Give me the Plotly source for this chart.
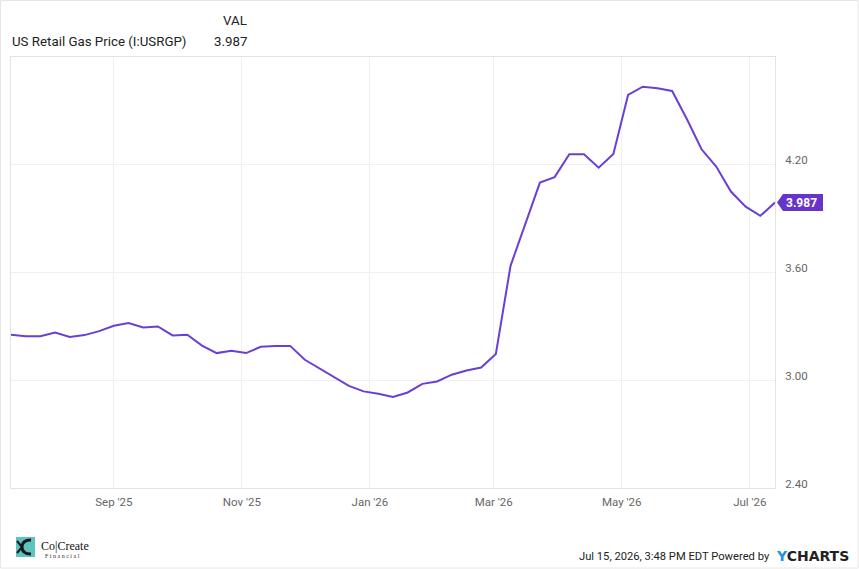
import pandas as pd
import plotly.graph_objects as go

# weekly US retail gas price, Mondays
week_start = "2025-07-14"
gas_price = [
    3.252, 3.244, 3.244, 3.264, 3.240, 3.250, 3.272, 3.302, 3.317, 3.292,
    3.298, 3.248, 3.252, 3.192, 3.150, 3.163, 3.150, 3.185, 3.190, 3.190,
    3.113, 3.064, 3.018, 2.968, 2.937, 2.924, 2.906, 2.931, 2.979, 2.992,
    3.030, 3.053, 3.070, 3.145, 3.635, 3.863, 4.098, 4.128, 4.256, 4.256,
    4.181, 4.257, 4.585, 4.631, 4.622, 4.607, 4.451, 4.283, 4.187, 4.048,
    3.964, 3.913, 3.987,
]
dates = pd.date_range(week_start, periods=len(gas_price), freq="7D")
series_name = "US Retail Gas Price (I:USRGP)"
last_val = f"{gas_price[-1]:.3f}"
y_ticks = [2.40, 3.00, 3.60, 4.20]
y_range = [2.40, 4.796]

LINE = "#6b3fd4"
TAG = "#6634c9"
GRID = "#f0f0f0"
FRAME = "#e3e3e3"
TICK = "#666666"

# plot area in pixels: x 11..775, y 57..488
W, H = 859, 569
L, R, T, B = 11, 84, 57, 81
pw, ph = W - L - R, H - T - B


def px(x):
    return (x - L) / pw


def py(y):
    return (H - B - y) / ph


fig = go.Figure()
fig.add_trace(go.Scatter(
    x=dates, y=gas_price, mode="lines",
    line=dict(color=LINE, width=2), name=series_name,
    hoverinfo="x+y",
))

fig.update_xaxes(
    range=[dates[0], dates[-1]],
    tick0="2025-09-01", dtick="M2", tickformat="%b '%y",
    showgrid=True, gridcolor=GRID, gridwidth=1,
    showline=True, linecolor=FRAME, linewidth=1, mirror=True,
    ticks="", tickfont=dict(family="Roboto", size=11.5, color=TICK),
    ticklabelstandoff=3, zeroline=False,
)
fig.update_yaxes(
    side="right", range=y_range,
    tickvals=y_ticks, tickformat=".2f",
    showgrid=True, gridcolor=GRID, gridwidth=1,
    showline=True, linecolor=FRAME, linewidth=1, mirror=True,
    ticks="", tickfont=dict(family="Roboto", size=11.5, color=TICK),
    ticklabelstandoff=7, ticklabelshift=-4, zeroline=False,
)

# price tag at the last point (y in paper units from the last value)
tag_y = (gas_price[-1] - y_range[0]) / (y_range[1] - y_range[0])
fig.add_shape(
    type="path", xref="paper", yref="paper", xsizemode="pixel", ysizemode="pixel",
    xanchor=1, yanchor=tag_y,
    path="M 2,0 L 8,8.5 L 48,8.5 L 48,-8.5 L 8,-8.5 Z",
    fillcolor=TAG, line=dict(width=0), layer="above",
)
fig.add_annotation(
    x=1, y=tag_y, xref="paper", yref="paper",
    text=f"<b>{last_val}</b>", showarrow=False, xanchor="left", yanchor="middle",
    xshift=9, font=dict(family="Roboto", size=12, color="white"),
)

# legend header
head_font = dict(family="Roboto", size=13.3, color="#222222")
fig.add_annotation(x=px(249), y=py(21), xref="paper", yref="paper", text="VAL",
                   showarrow=False, xanchor="right", yanchor="middle", font=head_font)
fig.add_annotation(x=px(10), y=py(41), xref="paper", yref="paper", text=series_name,
                   showarrow=False, xanchor="left", yanchor="middle", font=head_font)
fig.add_annotation(x=px(249), y=py(41), xref="paper", yref="paper", text=last_val,
                   showarrow=False, xanchor="right", yanchor="middle", font=head_font)

# footer
fig.add_annotation(x=px(772), y=py(556), xref="paper", yref="paper",
                   text="Jul 15, 2026, 3:48 PM EDT Powered by",
                   showarrow=False, xanchor="right", yanchor="middle",
                   font=dict(family="Roboto", size=11.2, color="#222222"))
fig.add_annotation(x=px(774), y=py(556), xref="paper", yref="paper",
                   text="<span style='color:#1e90e8'>Y</span>CHARTS",
                   showarrow=False, xanchor="left", yanchor="middle",
                   font=dict(family="DejaVu Sans", size=14, color="#222222", weight="bold"))

# CoCreate logo
fig.add_shape(type="rect", xref="paper", yref="paper",
              x0=px(16), x1=px(35), y0=py(557), y1=py(537),
              fillcolor="#5fc4c0", line=dict(width=0))
fig.add_shape(type="path", xref="paper", yref="paper",
              path=f"M {px(31)},{py(540)} Q {px(22)},{py(540)} {px(22)},{py(547)} "
                   f"Q {px(22)},{py(554)} {px(31)},{py(554)}",
              line=dict(color="#1a1a1a", width=3))
fig.add_shape(type="path", xref="paper", yref="paper",
              path=f"M {px(17)},{py(541)} L {px(22)},{py(547)} L {px(17)},{py(553)}",
              line=dict(color="#1a1a1a", width=2))
fig.add_annotation(x=px(39), y=py(546), xref="paper", yref="paper", text="Co|Create",
                   showarrow=False, xanchor="left", yanchor="middle",
                   font=dict(family="Liberation Serif", size=12, color="#111111"))
fig.add_annotation(x=px(43), y=py(556), xref="paper", yref="paper", text="F i n a n c i a l",
                   showarrow=False, xanchor="left", yanchor="middle",
                   font=dict(family="Liberation Serif", size=6, color="#333333"))

# outer border of the image
fig.add_shape(type="rect", xref="paper", yref="paper",
              x0=px(0.5), x1=px(858), y0=py(568), y1=py(0.5),
              line=dict(color="#e6e6e6", width=1), layer="below")

fig.update_layout(
    width=W, height=H,
    margin=dict(l=L, r=R, t=T, b=B),
    paper_bgcolor="white", plot_bgcolor="white",
    showlegend=False,
)

fig.write_html("out.html", config={"displayModeBar": False},
               post_script="document.body.style.margin='0';")
